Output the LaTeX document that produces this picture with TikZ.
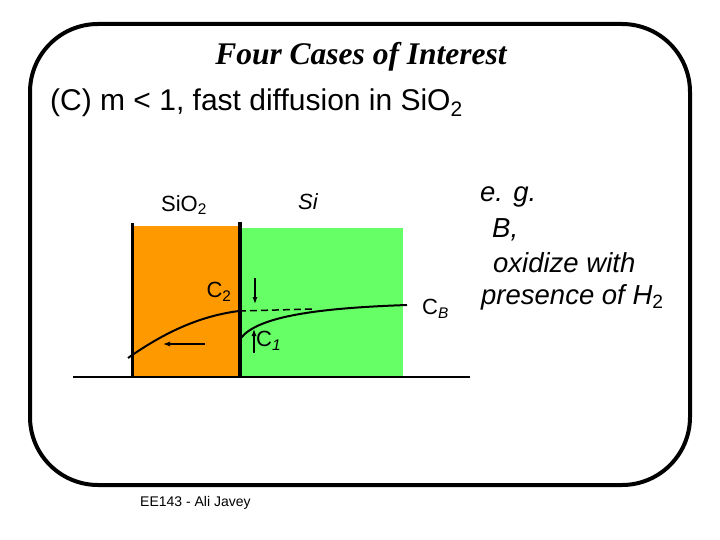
\documentclass[tikz,border=0pt]{standalone}
\usepackage{fontspec}
\setmainfont{Liberation Sans}
\newfontfamily\titlefont{Liberation Serif}
\usetikzlibrary{arrows.meta}
\definecolor{oxorange}{RGB}{255,153,0}
\definecolor{sigreen}{RGB}{102,255,102}
\begin{document}
\begin{tikzpicture}[x=1pt,y=-1pt,
  lbl/.style={inner sep=0pt,font=\fontsize{22}{26}\selectfont},
  egtxt/.style={inner sep=0pt,anchor=west,font=\fontsize{27.5}{33}\selectfont\itshape},
  thinarrow/.style={line width=1.2pt,-{Latex[length=7pt,width=5pt]}},
  curve/.style={line width=2pt}]
\useasboundingbox (0,0) rectangle (720,540);
% frame
\draw[line width=4pt,rounded corners=68pt] (30,24) rectangle (690,485);
% titles
\node[inner sep=0pt,font=\fontsize{31.5}{36}\selectfont\titlefont\bfseries\itshape] (title) at (361,57) {Four Cases of Interest};
\node[inner sep=0pt,anchor=west,font=\fontsize{30}{35}\selectfont] (sub) at (50,103) {(C) m < 1, fast diffusion in SiO\textsubscript{2}};
% regions
\fill[oxorange] (132,226) rectangle (240,377);
\fill[sigreen] (240,228) rectangle (403,377);
\draw[line width=3pt] (132,223) -- (132,377);
\draw[line width=4pt] (240,222) -- (240,377);
\draw[line width=2pt] (73,377) -- (470,377);
% labels
\node[lbl] (siox) at (184,205) {SiO\textsubscript{2}};
\node[lbl,font=\fontsize{22}{26}\selectfont\itshape] (si) at (308,202) {Si};
% profiles
\coordinate (l0) at (128,358);
\coordinate (l1) at (239,311);
\coordinate (r0) at (241,338);
\coordinate (r1) at (407,305);
\coordinate (d1) at (313,309);
\draw[curve] (l0) .. controls (165,332) and (200,316) .. (l1);
\draw[curve] (r0) .. controls (258,316) and (320,308) .. (r1);
\draw[line width=1.5pt,dashed,dash pattern=on 7pt off 4pt] (l1) -- (d1);
% arrows
\coordinate (a0) at (205,344);
\coordinate (a1) at (163,344);
\draw[thinarrow] (a0) -- (a1);
\coordinate (dn0) at (255,278);
\coordinate (dn1) at (255,304);
\draw[thinarrow] (dn0) -- (dn1);
\coordinate (up0) at (254,353);
\coordinate (up1) at (254,329);
\draw[thinarrow] (up0) -- (up1);
% concentration labels
\node[lbl] (c2) at (219,292) {C\textsubscript{2}};
\node[lbl,anchor=west] (c1) at (256,341) {C\textsubscript{\itshape 1}};
\node[lbl,anchor=west] (cb) at (422,309) {C\textsubscript{\itshape B}};
% example text
\node[egtxt] (eg1) at (480,197) {e. g.};
\node[egtxt] (eg2) at (492,230) {B,};
\node[egtxt] (eg3) at (493,263) {oxidize with};
\node[egtxt] (eg4) at (481,297) {presence of H\textsubscript{\upshape 2}};
% footer
\node[inner sep=0pt,anchor=west,font=\fontsize{14}{16}\selectfont] (foot) at (140,503) {EE143 - Ali Javey};
\end{tikzpicture}
\end{document}
